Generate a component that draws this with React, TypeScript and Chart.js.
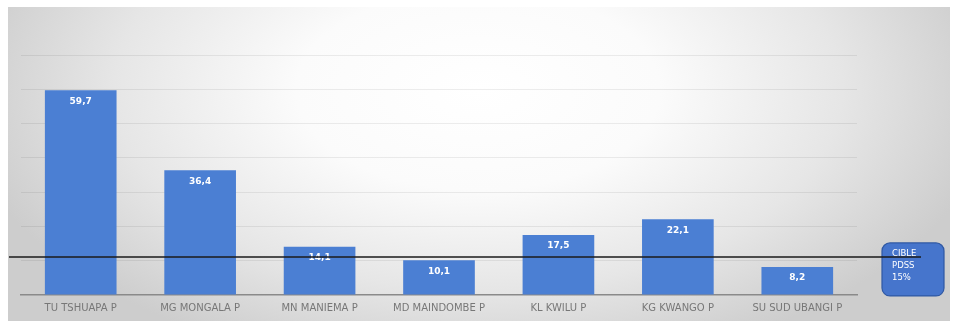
import React, { useEffect, useRef } from "react";
import { Chart, registerables } from "chart.js";

Chart.register(...registerables);

const categories = [
  "TU TSHUAPA P",
  "MG MONGALA P",
  "MN MANIEMA P",
  "MD MAINDOMBE P",
  "KL KWILU P",
  "KG KWANGO P",
  "SU SUD UBANGI P",
];
const values = [59.7, 36.4, 14.1, 10.1, 17.5, 22.1, 8.2];
const valueLabels = ["59,7", "36,4", "14,1", "10,1", "17,5", "22,1", "8,2"];
const targetLineValue = 11.1; // where the black target line sits in the picture
const targetBoxLines = ["CIBLE", "PDSS", "15%"];
const yMax = 70;
const yStep = 10;

const BAR_COLOR = "#4b7fd3";

const backgroundPlugin = {
  id: "bgPanel",
  beforeDraw(chart: any) {
    const { ctx } = chart;
    const x0 = 8, y0 = 7, x1 = 950, y1 = 321;
    ctx.save();
    ctx.fillStyle = "#ffffff";
    ctx.fillRect(0, 0, chart.width, chart.height);
    ctx.beginPath();
    ctx.rect(x0, y0, x1 - x0, y1 - y0);
    ctx.clip();
    const cx = 478, cy = 90;
    ctx.translate(cx, cy);
    ctx.scale(1, 0.55);
    const g = ctx.createRadialGradient(0, 0, 0, 0, 0, 520);
    g.addColorStop(0, "#ffffff");
    g.addColorStop(0.35, "#fbfbfb");
    g.addColorStop(0.7, "#e6e6e6");
    g.addColorStop(1, "#cdcdcd");
    ctx.fillStyle = g;
    ctx.fillRect(-cx, -cy / 0.55 - 10, chart.width + 20, 1000);
    ctx.restore();
  },
};

const overlayPlugin = {
  id: "overlay",
  afterDatasetsDraw(chart: any) {
    const { ctx } = chart;
    const meta = chart.getDatasetMeta(0);
    ctx.save();
    ctx.fillStyle = "#ffffff";
    ctx.font = "bold 9px 'DejaVu Sans', sans-serif";
    ctx.textAlign = "center";
    ctx.textBaseline = "middle";
    meta.data.forEach((bar: any, i: number) => {
      ctx.fillText(valueLabels[i], bar.x, bar.y + 11);
    });
    ctx.restore();
  },
  afterDraw(chart: any) {
    const { ctx, chartArea, scales } = chart;
    const yLine = scales.y.getPixelForValue(targetLineValue);
    // target box
    const bx = chartArea.right + 25;
    const by = yLine - 14;
    const bw = 62;
    const bh = 53;
    const r = 8;
    ctx.save();
    ctx.beginPath();
    ctx.moveTo(bx + r, by);
    ctx.arcTo(bx + bw, by, bx + bw, by + bh, r);
    ctx.arcTo(bx + bw, by + bh, bx, by + bh, r);
    ctx.arcTo(bx, by + bh, bx, by, r);
    ctx.arcTo(bx, by, bx + bw, by, r);
    ctx.closePath();
    ctx.fillStyle = "#4675cc";
    ctx.fill();
    ctx.lineWidth = 1.2;
    ctx.strokeStyle = "#2f58a3";
    ctx.stroke();
    ctx.fillStyle = "#ffffff";
    ctx.font = "8.5px 'DejaVu Sans', sans-serif";
    ctx.textAlign = "left";
    ctx.textBaseline = "middle";
    targetBoxLines.forEach((t, i) => {
      ctx.fillText(t, bx + 10, by + 11 + i * 12);
    });
    // target line
    ctx.beginPath();
    ctx.moveTo(9, yLine);
    ctx.lineTo(bx + 39, yLine);
    ctx.lineWidth = 1.6;
    ctx.strokeStyle = "#1a1a1a";
    ctx.stroke();
    ctx.restore();
  },
};

export default function App() {
  const ref = useRef<HTMLCanvasElement>(null);
  useEffect(() => {
    document.body.style.margin = "0";
    const chart = new Chart(ref.current as HTMLCanvasElement, {
      type: "bar",
      data: {
        labels: categories,
        datasets: [
          {
            data: values,
            backgroundColor: BAR_COLOR,
            borderWidth: 0,
            categoryPercentage: 1,
            barPercentage: 0.6,
          },
        ],
      },
      options: {
        animation: false,
        responsive: false,
        maintainAspectRatio: false,
        layout: { padding: { left: 21, right: 96, top: 55, bottom: 0 } },
        plugins: {
          legend: { display: false },
          tooltip: { enabled: false },
          title: { display: false },
        },
        scales: {
          x: {
            grid: { display: false, drawTicks: false },
            border: { display: true, color: "#8a8a8a", width: 1.5 },
            ticks: {
              color: "#777777",
              font: { size: 10, family: "'DejaVu Sans', sans-serif" },
              padding: 7,
              maxRotation: 0,
              autoSkip: false,
            },
            afterFit: (axis: any) => {
              axis.height = 30;
            },
          },
          y: {
            min: 0,
            max: yMax,
            ticks: { display: false, stepSize: yStep },
            grid: {
              drawTicks: false,
              color: (c: any) => (c.tick && c.tick.value === 0 ? "rgba(0,0,0,0)" : "rgba(0,0,0,0.07)"),
              lineWidth: 1,
            },
            border: { display: false },
            afterFit: (axis: any) => {
              axis.width = 0;
            },
          },
        },
      },
      plugins: [backgroundPlugin, overlayPlugin],
    });
    return () => chart.destroy();
  }, []);
  return <canvas ref={ref} width={953} height={325} style={{ display: "block" }} />;
}
